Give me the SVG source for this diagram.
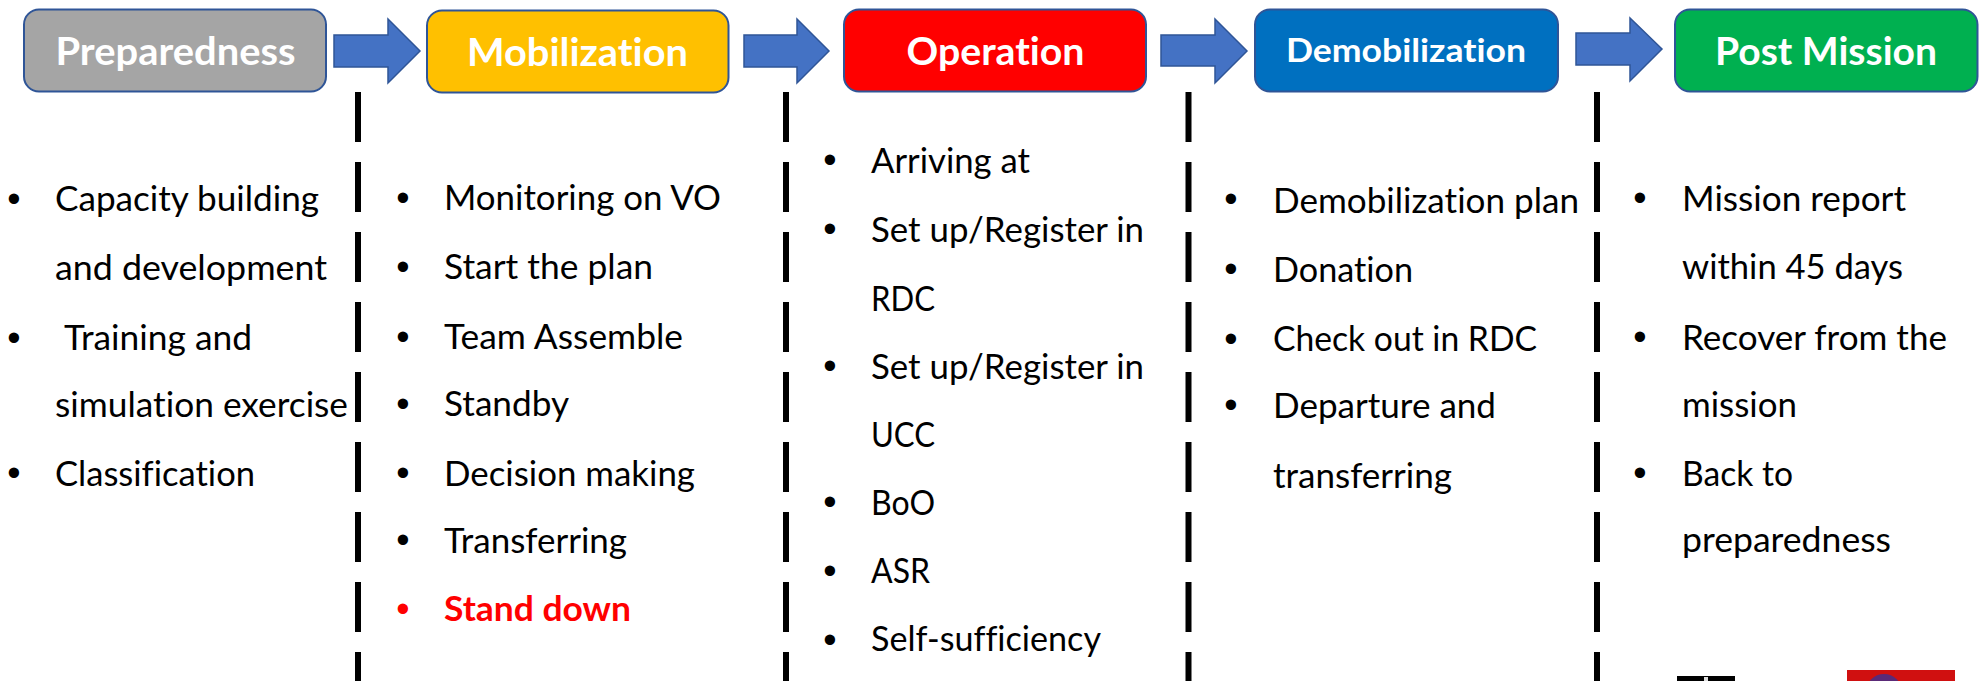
<svg xmlns="http://www.w3.org/2000/svg" width="1981" height="681" viewBox="0 0 1981 681">
<style>
text{font-family:"Lato","Carlito","Open Sans",sans-serif;font-variant-ligatures:none}
.box{stroke:#2F5597;stroke-width:2}
.title{fill:#fff;font-weight:700;font-size:39px}
.item{fill:#000;font-size:34px}
.bul{fill:#000;font-size:38px;font-family:"Liberation Sans",sans-serif;text-anchor:middle}
.red{fill:#f00}
.arrow{fill:#4472C4;stroke:#2F5597;stroke-width:1.5}
.sep{stroke:#000;stroke-width:6;stroke-dasharray:50 20;fill:none}
</style>
<rect width="1981" height="681" fill="#fff"/>
<g id="connectors">
<polygon class="arrow" points="334,35 388,35 388,19 420,51 388,83 388,67 334,67"/>
<polygon class="arrow" points="744,35 797,35 797,19 829,51 797,83 797,67 744,67"/>
<polygon class="arrow" points="1161,35 1215,35 1215,19 1247,51 1215,83 1215,66 1161,66"/>
<polygon class="arrow" points="1576,33 1630,33 1630,18 1662,49 1630,81 1630,65 1576,65"/>
</g>
<g id="separators">
<line class="sep" x1="358" y1="92" x2="358" y2="681"/>
<line class="sep" x1="786" y1="92" x2="786" y2="681"/>
<line class="sep" x1="1188.500" y1="92" x2="1188.500" y2="681"/>
<line class="sep" x1="1597" y1="92" x2="1597" y2="681"/>
</g>
<g id="node-preparedness">
<rect class="box" x="24" y="9.500" width="302" height="82" rx="15" fill="#A5A5A5"/>
<text class="title" x="55.500" y="65" textLength="240" lengthAdjust="spacingAndGlyphs">Preparedness</text>
</g>
<g id="node-mobilization">
<rect class="box" x="427" y="10.500" width="301.500" height="82" rx="15" fill="#FFC000"/>
<text class="title" x="467" y="66" textLength="221" lengthAdjust="spacingAndGlyphs">Mobilization</text>
</g>
<g id="node-operation">
<rect class="box" x="844" y="9.500" width="302" height="82" rx="15" fill="#FF0000"/>
<text class="title" x="906.500" y="65" textLength="178" lengthAdjust="spacingAndGlyphs">Operation</text>
</g>
<g id="node-demobilization">
<rect class="box" x="1255" y="9.500" width="303" height="82" rx="15" fill="#0070C0"/>
<text class="title" style="font-size:33px" x="1286" y="62" textLength="240" lengthAdjust="spacingAndGlyphs">Demobilization</text>
</g>
<g id="node-post-mission">
<rect class="box" x="1675" y="9.500" width="302.500" height="82" rx="15" fill="#00B050"/>
<text class="title" x="1715" y="65" textLength="222" lengthAdjust="spacingAndGlyphs">Post Mission</text>
</g>
<g id="list-preparedness">
<text class="bul" x="14" y="212">•</text>
<text class="item" x="55" y="211" textLength="264" lengthAdjust="spacingAndGlyphs">Capacity building</text>
<text class="item" x="55" y="280" textLength="272" lengthAdjust="spacingAndGlyphs">and development</text>
<text class="bul" x="14" y="351">•</text>
<text class="item" x="64" y="350" textLength="188" lengthAdjust="spacingAndGlyphs">Training and</text>
<text class="item" x="55" y="417" textLength="293" lengthAdjust="spacingAndGlyphs">simulation exercise</text>
<text class="bul" x="14" y="486">•</text>
<text class="item" x="55" y="486" textLength="200" lengthAdjust="spacingAndGlyphs">Classification</text>
</g>
<g id="list-mobilization">
<text class="bul" x="403" y="211">•</text>
<text class="item" x="444" y="210" textLength="277" lengthAdjust="spacingAndGlyphs">Monitoring on VO</text>
<text class="bul" x="403" y="280">•</text>
<text class="item" x="444" y="279" textLength="209" lengthAdjust="spacingAndGlyphs">Start the plan</text>
<text class="bul" x="403" y="350">•</text>
<text class="item" x="444" y="349" textLength="239" lengthAdjust="spacingAndGlyphs">Team Assemble</text>
<text class="bul" x="403" y="417">•</text>
<text class="item" x="444" y="416" textLength="125" lengthAdjust="spacingAndGlyphs">Standby</text>
<text class="bul" x="403" y="486">•</text>
<text class="item" x="444" y="486" textLength="251" lengthAdjust="spacingAndGlyphs">Decision making</text>
<text class="bul" x="403" y="553">•</text>
<text class="item" x="444" y="553" textLength="183" lengthAdjust="spacingAndGlyphs">Transferring</text>
<text class="bul red" x="403" y="622">•</text>
<text class="item red" style="font-weight:700" x="444" y="621" textLength="187" lengthAdjust="spacingAndGlyphs">Stand down</text>
</g>
<g id="list-operation">
<text class="bul" x="830" y="173">•</text>
<text class="item" x="871" y="173" textLength="159" lengthAdjust="spacingAndGlyphs">Arriving at</text>
<text class="bul" x="830" y="242">•</text>
<text class="item" x="871" y="241.500" textLength="273" lengthAdjust="spacingAndGlyphs">Set up/Register in</text>
<text class="item" x="871" y="311" textLength="64" lengthAdjust="spacingAndGlyphs">RDC</text>
<text class="bul" x="830" y="379">•</text>
<text class="item" x="871" y="379" textLength="273" lengthAdjust="spacingAndGlyphs">Set up/Register in</text>
<text class="item" x="871" y="447" textLength="64" lengthAdjust="spacingAndGlyphs">UCC</text>
<text class="bul" x="830" y="515">•</text>
<text class="item" x="871" y="515" textLength="64" lengthAdjust="spacingAndGlyphs">BoO</text>
<text class="bul" x="830" y="584">•</text>
<text class="item" x="871" y="583" textLength="59" lengthAdjust="spacingAndGlyphs">ASR</text>
<text class="bul" x="830" y="653">•</text>
<text class="item" x="871" y="651" textLength="230" lengthAdjust="spacingAndGlyphs">Self-sufficiency</text>
</g>
<g id="list-demobilization">
<text class="bul" x="1231" y="212">•</text>
<text class="item" x="1273" y="213" textLength="306" lengthAdjust="spacingAndGlyphs">Demobilization plan</text>
<text class="bul" x="1231" y="282">•</text>
<text class="item" x="1273" y="282" textLength="140" lengthAdjust="spacingAndGlyphs">Donation</text>
<text class="bul" x="1231" y="352">•</text>
<text class="item" x="1273" y="351" textLength="264" lengthAdjust="spacingAndGlyphs">Check out in RDC</text>
<text class="bul" x="1231" y="418">•</text>
<text class="item" x="1273" y="418" textLength="223" lengthAdjust="spacingAndGlyphs">Departure and</text>
<text class="item" x="1273" y="488" textLength="179" lengthAdjust="spacingAndGlyphs">transferring</text>
</g>
<g id="list-post-mission">
<text class="bul" x="1640" y="211">•</text>
<text class="item" x="1682" y="211" textLength="224" lengthAdjust="spacingAndGlyphs">Mission report</text>
<text class="item" x="1682" y="279" textLength="221" lengthAdjust="spacingAndGlyphs">within 45 days</text>
<text class="bul" x="1640" y="350">•</text>
<text class="item" x="1682" y="350" textLength="265" lengthAdjust="spacingAndGlyphs">Recover from the</text>
<text class="item" x="1682" y="417" textLength="115" lengthAdjust="spacingAndGlyphs">mission</text>
<text class="bul" x="1640" y="486">•</text>
<text class="item" x="1682" y="486" textLength="111" lengthAdjust="spacingAndGlyphs">Back to</text>
<text class="item" x="1682" y="552" textLength="209" lengthAdjust="spacingAndGlyphs">preparedness</text>
</g>
<g id="logos">
<rect x="1677" y="676" width="58" height="5" fill="#000"/>
<rect x="1704" y="677" width="4" height="4" fill="#ddd"/>
<rect x="1847" y="670" width="108" height="11" fill="#D01010"/>
<circle cx="1884" cy="692" r="18" fill="#5A2A78"/>
</g>
</svg>
